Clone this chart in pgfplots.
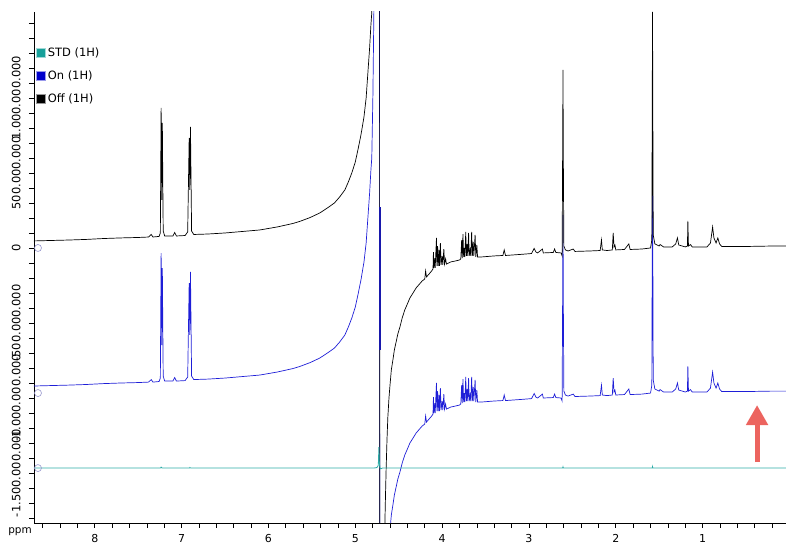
\documentclass[border=0pt]{standalone}
\usepackage{pgfplots}
\pgfplotsset{compat=1.18}
\usepackage{pgfplotstable}
\usepackage{fontspec}
\setmainfont{DejaVu Sans}
\usetikzlibrary{arrows.meta}
\definecolor{oncol}{RGB}{30,30,215}
\definecolor{onfill}{RGB}{0,0,204}
\definecolor{stdcol}{RGB}{45,172,168}
\definecolor{stdfill}{RGB}{23,160,154}
\definecolor{circcol}{RGB}{150,150,205}
\definecolor{arrowcol}{RGB}{236,100,95}

\pgfplotstableread{
ppm off on
8.70 47 -920
8.50 50 -917
8.30 53 -914
8.10 57 -910
7.90 63 -904
7.70 67 -900
7.50 70 -897
7.38 73 -894
7.35 90 -877
7.33 73 -894
7.26 77 -890
7.245 100 -867
7.236 933 -34
7.229 320 -647
7.222 833 -134
7.212 113 -854
7.195 80 -887
7.10 80 -887
7.08 103 -864
7.06 80 -887
6.96 83 -884
6.93 107 -860
6.913 733 -234
6.906 387 -580
6.898 807 -160
6.885 113 -854
6.86 90 -877
6.70 93 -874
6.50 100 -867
6.30 110 -857
6.10 120 -847
5.90 140 -827
5.72 163 -804
5.64 177 -790
5.52 203 -764
5.41 233 -734
5.32 267 -700
5.24 300 -667
5.18 340 -627
5.12 387 -580
5.08 440 -527
5.04 500 -467
5.00 573 -394
4.97 653 -314
4.935 753 -214
4.90 873 -94
4.875 1000 33
4.855 1167 200
4.835 1333 366
4.82 1487 520
4.81 1567 600
4.797 1987 1020
4.786 2540 1573
4.774 3520 2553
4.763 5653 4686
4.745 9000 8033
4.722 9000 8033
4.717 -9000 -9967
4.694 -7013 -7980
4.682 -3680 -4647
4.670 -2480 -3447
4.659 -1833 -2800
4.652 -1647 -2614
4.645 -1480 -2447
4.635 -1280 -2247
4.625 -1127 -2094
4.612 -1000 -1967
4.600 -913 -1880
4.585 -813 -1780
4.567 -747 -1714
4.550 -680 -1647
4.530 -627 -1594
4.510 -573 -1540
4.486 -527 -1494
4.460 -467 -1434
4.430 -413 -1380
4.400 -373 -1340
4.371 -333 -1300
4.335 -300 -1267
4.300 -267 -1234
4.260 -240 -1207
4.230 -220 -1187
4.200 -207 -1174
4.190 -153 -1120
4.180 -193 -1160
4.150 -173 -1140
4.120 -153 -1120
4.105 -140 -1107
4.100 -27 -994
4.095 -133 -1100
4.085 -67 -1034
4.080 -133 -1100
4.065 67 -900
4.060 -120 -1087
4.052 13 -954
4.045 -120 -1087
4.035 -13 -980
4.030 -120 -1087
4.020 33 -934
4.012 -113 -1080
4.000 -53 -1020
3.992 -113 -1080
3.980 -7 -974
3.972 -107 -1074
3.960 -73 -1040
3.950 -107 -1074
3.900 -93 -1060
3.850 -87 -1054
3.800 -80 -1047
3.785 -73 -1040
3.775 53 -914
3.768 -67 -1034
3.760 93 -874
3.752 -60 -1027
3.745 0 -967
3.738 -60 -1027
3.728 107 -860
3.720 -53 -1020
3.712 27 -940
3.705 -53 -1020
3.695 100 -867
3.688 -53 -1020
3.678 -13 -980
3.670 -53 -1020
3.660 107 -860
3.652 -53 -1020
3.642 40 -927
3.635 -53 -1020
3.620 87 -880
3.612 -60 -1027
3.600 20 -947
3.592 -60 -1027
3.550 -60 -1027
3.400 -53 -1020
3.300 -50 -1017
3.285 -13 -980
3.270 -50 -1017
3.100 -43 -1010
2.970 -37 -1004
2.940 -3 -970
2.920 -27 -994
2.900 -33 -1000
2.845 -7 -974
2.835 -33 -1000
2.720 -30 -997
2.705 -7 -974
2.690 -30 -997
2.630 -33 -1000
2.618 -53 -1020
2.612 653 -314
2.608 1187 220
2.604 587 -380
2.598 13 -954
2.580 -13 -980
2.550 -20 -987
2.490 -7 -974
2.470 -23 -990
2.300 -20 -987
2.180 -17 -984
2.165 53 -914
2.155 -13 -980
2.100 -17 -984
2.040 -13 -980
2.030 100 -867
2.020 7 -960
2.010 20 -947
2.000 -13 -980
1.900 -10 -977
1.850 27 -940
1.835 -10 -977
1.700 -7 -974
1.600 0 -967
1.585 53 -914
1.577 1573 606
1.569 87 -880
1.550 27 -940
1.500 13 -954
1.490 23 -944
1.450 7 -960
1.350 7 -960
1.310 27 -940
1.290 67 -900
1.275 20 -947
1.200 7 -960
1.175 13 -954
1.170 180 -787
1.163 13 -954
1.140 23 -944
1.120 7 -960
0.950 7 -960
0.910 33 -934
0.885 140 -827
0.870 67 -900
0.845 33 -934
0.825 67 -900
0.805 27 -940
0.780 10 -957
0.500 10 -957
0.200 13 -954
0.040 13 -954
}\spec

\pgfplotstableread{
ppm std
8.70 -1467
7.245 -1467
7.236 -1461
7.225 -1467
6.91 -1467
6.905 -1463
6.895 -1467
4.80 -1467
4.76 -1465
4.745 -1460
4.735 -1447
4.728 -1327
4.722 -1440
4.715 -1467
4.705 -1472
4.69 -1467
2.612 -1467
2.608 -1459
2.604 -1467
1.58 -1467
1.577 -1457
1.573 -1467
0.04 -1467
}\stdtab

\begin{document}
\begin{tikzpicture}
\begin{axis}[
  scale only axis, width=752bp, height=511bp,
  x dir=reverse, xmin=0.04, xmax=8.70, ymin=-1833, ymax=1573,
  axis x line=bottom, axis y line=left,
  axis line style={-, line width=0.8bp, black},
  tick align=outside, major tick length=5bp, minor tick length=5bp,
  every tick/.style={black, line width=0.7bp},
  xtick={1,2,3,4,5,6,7,8},
  minor xtick={0.2,0.4,0.6,0.8,1.2,1.4,1.6,1.8,2.2,2.4,2.6,2.8,3.2,3.4,3.6,3.8,4.2,4.4,4.6,4.8,5.2,5.4,5.6,5.8,6.2,6.4,6.6,6.8,7.2,7.4,7.6,7.8,8.2,8.4,8.6},
  ytick={-1500,-1000,-500,0,500,1000},
  yticklabels={-1.500.000.000,-1.000.000.000,-500.000.000,0,500.000.000,1.000.000.000},
  minor ytick={-1800,-1700,-1600,-1400,-1300,-1200,-1100,-900,-800,-700,-600,-400,-300,-200,-100,100,200,300,400,600,700,800,900,1100,1200,1300,1400,1500},
  /pgf/number format/assume math mode=true,
  yticklabel style={rotate=90, anchor=south, yshift=5bp, font=\fontsize{11.5}{13}\selectfont},
  xticklabel style={yshift=-3bp, font=\fontsize{11}{13}\selectfont},
  legend style={at={(axis description cs:0.003,0.935)}, anchor=north west, draw=none, fill=none,
    font=\fontsize{11.5}{13}\selectfont, row sep=9bp, inner sep=0pt,
    /tikz/every even column/.append style={column sep=0pt}},
  legend cell align=left,
]
\addlegendimage{legend image code/.code={\draw[fill=stdfill, draw=stdfill!40] (0bp,-4.5bp) rectangle (9bp,4.5bp);}}
\addlegendentry{STD (1H)}
\addlegendimage{legend image code/.code={\draw[fill=onfill, draw=onfill!40] (0bp,-4.5bp) rectangle (9bp,4.5bp);}}
\addlegendentry{On (1H)}
\addlegendimage{legend image code/.code={\draw[fill=black, draw=black!40] (0bp,-4.5bp) rectangle (9bp,4.5bp);}}
\addlegendentry{Off (1H)}

\addplot[oncol, line width=0.7bp, forget plot] table[x=ppm, y=on] {\spec};
\addplot[black, line width=0.7bp, forget plot] table[x=ppm, y=off] {\spec};
\addplot[oncol!80!black, line width=1.4bp, forget plot] coordinates {(4.717,273) (4.717,-680)};
\addplot[stdcol, line width=0.8bp, forget plot] table[x=ppm, y=std] {\stdtab};
\addplot[only marks, mark=o, mark size=3.5bp, circcol, line width=0.6bp, forget plot]
  coordinates {(8.654,0) (8.654,-967) (8.654,-1467)};

\draw[arrowcol, line width=5bp, -{Triangle[width=21bp,length=20bp]}]
  (axis cs:0.373,-1427) -- (axis cs:0.373,-1047);

\coordinate (SW) at (axis cs:8.70,-1833);
\coordinate (NE) at (axis cs:0.04,1573);
\end{axis}
\node[anchor=north east, inner sep=0pt, font=\fontsize{10.5}{12}\selectfont] at ([shift={(-2bp,-4bp)}]SW) {ppm};
\pgfresetboundingbox
\path ([shift={(-34bp,-23bp)}]SW) rectangle ([shift={(0bp,12bp)}]NE);
\end{tikzpicture}
\end{document}
